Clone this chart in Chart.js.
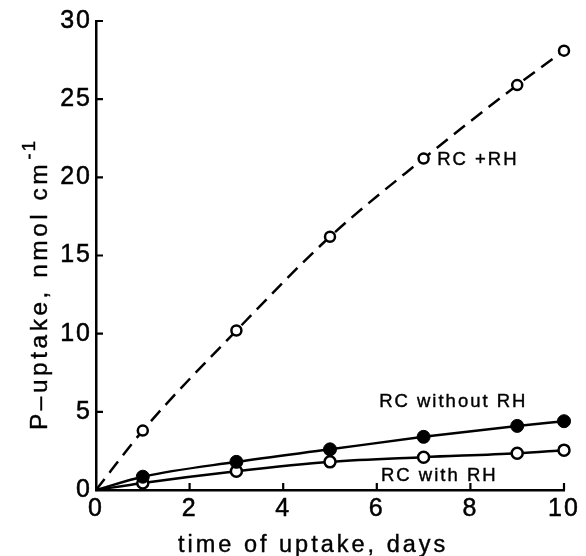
<!DOCTYPE html>
<html>
<head>
<meta charset="utf-8">
<script src="https://cdn.jsdelivr.net/npm/chart.js@4/dist/chart.umd.min.js"></script>
<style>
  html, body { margin: 0; padding: 0; background: #fff; }
  canvas { display: block; }
</style>
</head>
<body>
<canvas id="chart" width="586" height="556"></canvas>
<script>
// values
const xDays = [0, 1, 3, 5, 7, 9, 10];
const rcPlusRh = [0, 3.8, 10.2, 16.2, 21.2, 25.9, 28.1];
const rcWithoutRh = [0, 0.85, 1.8, 2.6, 3.4, 4.1, 4.4];
const rcWithRh = [0, 0.45, 1.2, 1.8, 2.1, 2.35, 2.55];

const xTickValues = [0, 2, 4, 6, 8, 10];
const yTickValues = [0, 5, 10, 15, 20, 25, 30];

const xTitle = 'time of uptake, days';
const yTitle = 'P\u2013uptake, nmol cm';
const yTitleSup = '-1';

// curve labels, anchored in data units (left edge, baseline)
const curveLabels = [
  { text: 'RC +RH', x: 7.29, y: 20.8 },
  { text: 'RC without RH', x: 6.05, y: 5.28 },
  { text: 'RC with RH', x: 6.09, y: 0.55 },
];

const FONT = '"Liberation Sans", Arial, sans-serif';

function points(ys) {
  return xDays.map((x, i) => ({ x: x, y: ys[i] }));
}

function radii(r) {
  return xDays.map(x => (x === 0 ? 0 : r));
}

// text that is a bit heavier, like the printed figure
function heavyText(ctx, text, x, y) {
  ctx.fillText(text, x, y);
  ctx.strokeText(text, x, y);
}

const spacingPlugin = {
  id: 'spacing',
  beforeUpdate(chart) { chart.ctx.letterSpacing = '2px'; },
  beforeDraw(chart) { chart.ctx.letterSpacing = '2px'; },
};

const extrasPlugin = {
  id: 'extras',
  afterDraw(chart) {
    const ctx = chart.ctx;
    const xs = chart.scales.x;
    const ys = chart.scales.y;
    const area = chart.chartArea;

    // inward tick marks
    ctx.save();
    ctx.strokeStyle = '#000';
    ctx.lineWidth = 2.2;
    ctx.beginPath();
    xTickValues.forEach(v => {
      if (v === 0) return;
      const px = xs.getPixelForValue(v);
      ctx.moveTo(px, area.bottom);
      ctx.lineTo(px, area.bottom - 7);
    });
    yTickValues.forEach(v => {
      if (v === 0) return;
      const py = ys.getPixelForValue(v);
      ctx.moveTo(area.left, py);
      ctx.lineTo(area.left + 7, py);
    });
    ctx.stroke();

    // curve labels
    ctx.fillStyle = '#000';
    ctx.lineWidth = 0.4;
    ctx.letterSpacing = '2px';
    ctx.font = '18.5px ' + FONT;
    ctx.textAlign = 'left';
    ctx.textBaseline = 'alphabetic';
    curveLabels.forEach(l => {
      heavyText(ctx, l.text, xs.getPixelForValue(l.x), ys.getPixelForValue(l.y));
    });

    // axis titles
    ctx.letterSpacing = '3px';
    ctx.font = '23.5px ' + FONT;
    heavyText(ctx, xTitle, area.left + 82, 552);

    ctx.translate(47, area.bottom - 60);
    ctx.rotate(-Math.PI / 2);
    ctx.letterSpacing = '3.5px';
    ctx.font = '24.5px ' + FONT;
    heavyText(ctx, yTitle, 0, 0);
    const w = ctx.measureText(yTitle).width;
    ctx.font = '19px ' + FONT;
    ctx.letterSpacing = '2px';
    heavyText(ctx, yTitleSup, w + 1, -12);
    ctx.restore();
  },
};

function axisOptions(min, max, tickValues, fit) {
  return {
    type: 'linear',
    min: min,
    max: max,
    afterBuildTicks: s => { s.ticks = tickValues.map(v => ({ value: v })); },
    afterFit: fit,
    grid: { display: true, drawOnChartArea: false, drawTicks: false },
    border: { display: true, color: '#000', width: 2.5 },
    ticks: {
      color: '#000',
      font: { family: FONT, size: 25 },
      textStrokeColor: '#000',
      textStrokeWidth: 0.5,
      maxRotation: 0,
      autoSkip: false,
      padding: 4,
    },
  };
}

const ctx = document.getElementById('chart').getContext('2d');
new Chart(ctx, {
  type: 'line',
  data: {
    datasets: [
      {
        label: 'RC + RH',
        data: points(rcPlusRh),
        borderColor: '#000',
        borderWidth: 2.5,
        borderDash: [14, 8],
        cubicInterpolationMode: 'monotone',
        pointRadius: radii(5),
        pointBorderWidth: 2.5,
        pointBorderColor: '#000',
        pointBackgroundColor: '#fff',
        clip: false,
      },
      {
        label: 'RC without RH',
        data: points(rcWithoutRh),
        borderColor: '#000',
        borderWidth: 2.5,
        cubicInterpolationMode: 'monotone',
        pointRadius: radii(6.5),
        pointBorderWidth: 1,
        pointBorderColor: '#000',
        pointBackgroundColor: '#000',
        clip: false,
      },
      {
        label: 'RC with RH',
        data: points(rcWithRh),
        borderColor: '#000',
        borderWidth: 2.5,
        cubicInterpolationMode: 'monotone',
        pointRadius: radii(5.5),
        pointBorderWidth: 2.5,
        pointBorderColor: '#000',
        pointBackgroundColor: '#fff',
        clip: false,
      },
    ],
  },
  options: {
    responsive: false,
    animation: false,
    devicePixelRatio: 1,
    layout: { padding: { top: 21, right: 22, bottom: 0, left: 0 } },
    plugins: { legend: { display: false }, tooltip: { enabled: false } },
    scales: {
      x: axisOptions(0, 10, xTickValues, s => { s.height = 66; }),
      y: axisOptions(0, 30, yTickValues, s => { s.width = 96; }),
    },
  },
  plugins: [spacingPlugin, extrasPlugin],
});
</script>
</body>
</html>
